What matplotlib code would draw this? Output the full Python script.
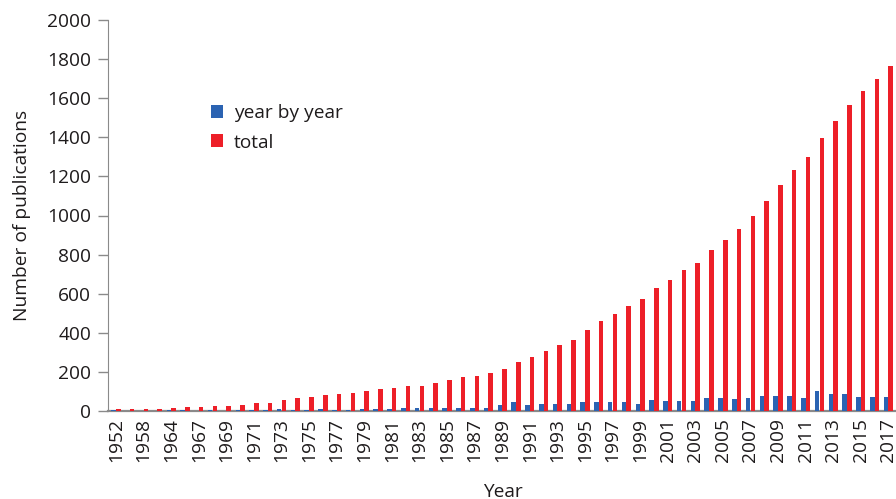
import matplotlib
matplotlib.use("Agg")
import matplotlib.pyplot as plt
import numpy as np

years = ['1952', '1955', '1958', '1961', '1964', '1966'] + [str(y) for y in range(1967, 2018)]

total = [8, 9, 10, 12, 17, 22, 22, 26, 26, 31,
         39, 39, 56, 65, 72, 83, 85, 91, 104, 111,
         118, 128, 129, 145, 157, 172, 179, 194, 215, 251,
         278, 307, 336, 365, 414, 458, 494, 537, 571, 629,
         670, 720, 755, 822, 876, 933, 997, 1076, 1155, 1232,
         1298, 1396, 1483, 1565, 1637, 1698, 1765]

year_by_year = [3, 1, 1, 2, 4, 3, 2, 3, 2, 4,
                6, 4, 8, 7, 6, 8, 5, 6, 9, 8,
                10, 14, 15, 15, 15, 15, 15, 15, 29, 44,
                29, 36, 36, 36, 44, 44, 44, 44, 36, 58,
                51, 51, 51, 65, 65, 60, 65, 78, 78, 78,
                65, 101, 85, 85, 72, 72, 72]

plt.rcParams['font.family'] = ['Open Sans', 'DejaVu Sans']
txt = '#1e1b1c'
blue = '#2b63b2'
red = '#ed1f28'
fs = 13.8

fig = plt.figure(figsize=(8.96, 4.99), dpi=100)
ax = fig.add_axes([108/896, (499-411)/499, 1 - 108/896, (411-20)/499])

x = np.arange(len(years))
w = 0.33
ax.bar(x - 0.17, year_by_year, width=w, color=blue, label='year by year', zorder=3)
ax.bar(x + 0.17, total, width=w, color=red, label='total', zorder=3)

ax.set_xlim(-0.58, len(years) - 0.45)
ax.set_ylim(0, 2000)
ax.set_yticks(range(0, 2001, 200))
ax.tick_params(axis='y', labelsize=fs, colors='#8a8a8a', labelcolor=txt, length=7, width=1, pad=5)
ax.set_xticks(x[::2])
ax.set_xticklabels(years[::2], rotation=90, fontsize=fs, color=txt)
ax.tick_params(axis='x', length=0, pad=5)

for s in ['top', 'right']:
    ax.spines[s].set_visible(False)
ax.spines['left'].set_color('#8a8a8a')
ax.spines['bottom'].set_color('#8a8a8a')
ax.spines['bottom'].set_linewidth(1.6)

ax.set_ylabel('Number of publications', fontsize=fs, color=txt)
ax.yaxis.set_label_coords(-0.098, 0.5)
ax.set_xlabel('Year', fontsize=fs, color=txt)
ax.xaxis.set_label_coords(0.501, -0.183)

leg = fig.legend(loc='upper left', bbox_to_anchor=(211/896, 1 - 104/499), frameon=False,
                 fontsize=fs, handlelength=0.65, handleheight=0.65, handletextpad=0.55,
                 labelspacing=0.6, borderpad=0, borderaxespad=0)
for t in leg.get_texts():
    t.set_color(txt)

fig.savefig('out.png', dpi=100)
